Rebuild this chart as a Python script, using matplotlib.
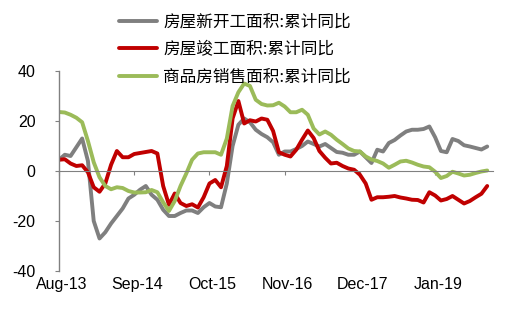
import numpy as np
import matplotlib
matplotlib.use('Agg')
import matplotlib.pyplot as plt

plt.rcParams['font.family'] = ['Liberation Sans', 'DejaVu Sans']

# monthly, Aug-13 .. Oct-19
new_start = [4.5, 6.5, 6, 9.5, 13, 4, -20, -27, -24.5, -21, -18, -15, -11, -9.5, -7.5, -6,
             -9.5, -11.5, -15.5, -18, -18, -16.8, -15.8, -15.8, -16.8, -14.5, -12.8, -14.2, -14.5, -5,
             10, 18.5, 21, 19.5, 16.5, 14.8, 13.5, 11.5, 6.5, 7.8, 7.8, 8.8, 10, 11.8, 10.8, 9.8,
             10.8, 9.2, 7.6, 7.3, 6.5, 6.5, 7.8, 5.5, 3.2, 8.5, 7.8, 11.2, 12.4, 14.2, 15.8, 16.5,
             16.5, 16.8, 17.8, 13.5, 8, 7.5, 12.8, 12, 10.3, 9.8, 9.2, 8.6, 9.8]
completed = [4.5, 4.7, 3, 2, 2.3, -0.5, -6.5, -8.3, -5, 2.5, 8, 5.5, 5.5, 6.8, 7.2, 7.6,
             8, 7, -6, -13.5, -9, -12.8, -14, -13.3, -14.6, -10.5, -5, -3.6, -6.5, 2,
             21, 28, 19, 20.3, 19.8, 21, 20.5, 16, 7.5, 6.5, 5.8, 8.5, 12.5, 16.2, 13.2, 8,
             5.3, 3, 3.3, 2, 1, 0.5, -1.5, -5, -11.5, -10.5, -10.5, -10.3, -10, -10.6, -11, -11.5,
             -11.6, -12.6, -8.5, -9.8, -11.8, -11.2, -10, -11.5, -13, -12, -10.5, -9.1, -6]
sales = [23.6, 23.4, 22.5, 21.3, 19.5, 12, 3.5, -2.5, -6, -7.3, -6.5, -6.8, -8, -8.6, -8.6, -8.5,
         -7.6, -8.5, -12.5, -16, -12, -6, -1, 4.5, 7, 7.5, 7.5, 7.5, 6.5, 13,
         26, 31.5, 35, 34, 28.5, 26.8, 26.2, 26.3, 27.3, 25.8, 23.5, 23.5, 24.5, 22.5, 17, 14.6,
         15.8, 14.5, 12.5, 10.8, 9, 8, 7.8, 5.8, 4.6, 4, 3, 1.3, 2.5, 3.8, 4.1, 3.4,
         2.5, 1.8, 1.5, -0.3, -2.8, -2, -0.3, -1, -1.8, -1.5, -0.8, -0.2, 0.2]

series_names = ['房屋新开工面积:累计同比', '房屋竣工面积:累计同比', '商品房销售面积:累计同比']
colors = ['#7f7f7f', '#c00000', '#9bbb59']
tick_idx = [0, 13, 26, 39, 52, 65]
tick_labels = ['Aug-13', 'Sep-14', 'Oct-15', 'Nov-16', 'Dec-17', 'Jan-19']
yticks = [-40, -20, 0, 20, 40]

W, H = 512, 314
fig = plt.figure(figsize=(W / 100, H / 100), dpi=100)
ax = fig.add_axes([59 / W, (H - 271) / H, (493 - 59) / W, 200 / H])

x = np.arange(len(new_start))
for vals, name, c in zip([new_start, completed, sales], series_names, colors):
    ax.plot(x, vals, color=c, lw=2.8, label=name, solid_capstyle='round')

ax.set_xlim(0, 75)
ax.set_ylim(-40, 40)
ax.set_yticks(yticks)
ax.set_yticklabels([str(v) for v in yticks], fontsize=11.5)
ax.set_xticks(tick_idx)
ax.tick_params(axis='x', labelbottom=False, length=3, color='#808080', width=0.8)
ax.tick_params(axis='y', length=3, color='#808080', width=0.8, pad=14)

for s in ['top', 'right']:
    ax.spines[s].set_visible(False)
ax.spines['bottom'].set_position(('data', 0))
ax.spines['bottom'].set_color('#808080')
ax.spines['bottom'].set_linewidth(0.8)
ax.spines['left'].set_color('#808080')
ax.spines['left'].set_linewidth(1.0)

for i, lab in zip(tick_idx, tick_labels):
    ax.text(i + 0.5, -0.03, lab, transform=ax.get_xaxis_transform(),
            ha='center', va='top', fontsize=11.5)

leg = fig.legend(loc='upper left', bbox_to_anchor=(119 / W, 1 - 14 / H), frameon=False,
                 prop={'family': ['Noto Sans CJK SC', 'DejaVu Sans'], 'size': 12},
                 handlelength=2.3, handletextpad=0.35, labelspacing=0.62, borderpad=0,
                 borderaxespad=0)

fig.savefig('out.png', dpi=100)
